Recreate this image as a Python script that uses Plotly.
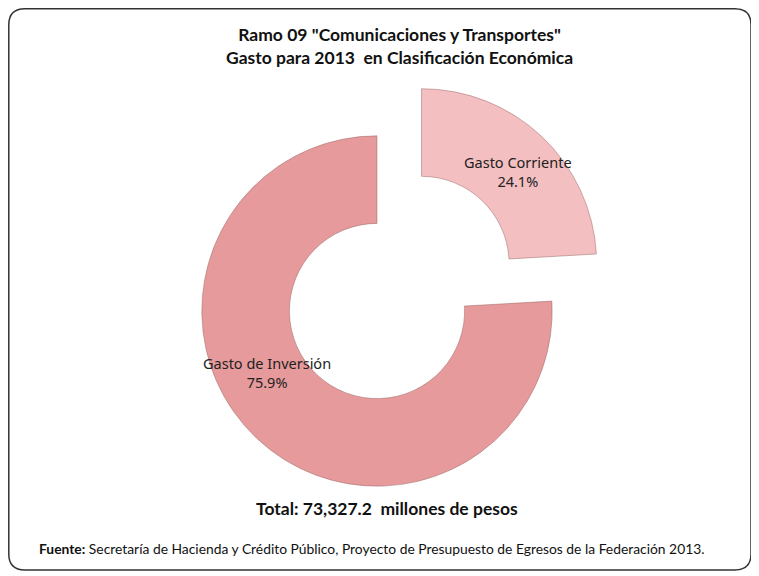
import plotly.graph_objects as go

# Data
categories = ["Gasto Corriente", "Gasto de Inversión"]
shares = [24.1, 75.9]
total_label = "73,327.2"
title_lines = ['Ramo 09 "Comunicaciones y Transportes"', "Gasto para 2013  en Clasificación Económica"]
source_text = "Secretaría de Hacienda y Crédito Público, Proyecto de Presupuesto de Egresos de la Federación 2013."

OFF = 8  # page body margin
W, H = 759 - OFF, 576 - OFF
colors = ["#F3BFC1", "#E69A9B"]


def px(x):
    return (x - OFF) / W


def py(y):
    return 1 - (y - OFF) / H


fig = go.Figure()
fig.add_trace(go.Pie(
    labels=categories,
    values=shares,
    sort=False,
    direction="clockwise",
    rotation=0,
    hole=0.5,
    pull=[0.37, 0],
    marker=dict(colors=colors, line=dict(color="rgba(150,100,100,0.6)", width=0.8)),
    textinfo="none",
    hoverinfo="label+percent",
    showlegend=False,
    domain=dict(x=[px(137), px(617)], y=[py(551), py(71)]),
))

tot = sum(shares)
label_pos = [(518, 171), (267, 372)]
for cat, v, (lx, ly) in zip(categories, shares, label_pos):
    fig.add_annotation(
        x=px(lx), y=py(ly), xref="paper", yref="paper",
        xanchor="center", yanchor="middle",
        text=f"{cat}<br>{v / tot * 100:.1f}%",
        showarrow=False, font=dict(family="Noto Sans", size=14.5, color="#222"),
        align="center",
    )

fig.add_annotation(
    x=px(399), y=py(46), xref="paper", yref="paper",
    xanchor="center", yanchor="middle",
    text="<b>" + title_lines[0] + "<br>" + title_lines[1] + "</b>",
    showarrow=False, font=dict(family="Lato", size=17.5, color="#111"), align="center",
)
fig.add_annotation(
    x=px(387), y=py(508), xref="paper", yref="paper",
    xanchor="center", yanchor="middle",
    text=f"<b>Total: {total_label}  millones de pesos</b>",
    showarrow=False, font=dict(family="Lato", size=17.5, color="#111"),
)
fig.add_annotation(
    x=px(37), y=py(548), xref="paper", yref="paper",
    xanchor="left", yanchor="middle",
    text="<b>Fuente:</b> " + source_text,
    showarrow=False, font=dict(family="Lato", size=13.85, color="#111"),
)

# Rounded border
x0, y0, x1, y1, r = 8.8, 8.8, 751, 570, 16
path = (f"M {px(x0 + r)},{py(y0)} L {px(x1 - r)},{py(y0)} "
        f"Q {px(x1)},{py(y0)} {px(x1)},{py(y0 + r)} L {px(x1)},{py(y1 - r)} "
        f"Q {px(x1)},{py(y1)} {px(x1 - r)},{py(y1)} L {px(x0 + r)},{py(y1)} "
        f"Q {px(x0)},{py(y1)} {px(x0)},{py(y1 - r)} L {px(x0)},{py(y0 + r)} "
        f"Q {px(x0)},{py(y0)} {px(x0 + r)},{py(y0)} Z")
fig.add_shape(type="path", path=path, xref="paper", yref="paper",
              line=dict(color="#333", width=1.5))

fig.update_layout(
    width=W, height=H,
    margin=dict(l=0, r=0, t=0, b=0),
    paper_bgcolor="white", plot_bgcolor="white",
)
fig.write_html("out.html")
